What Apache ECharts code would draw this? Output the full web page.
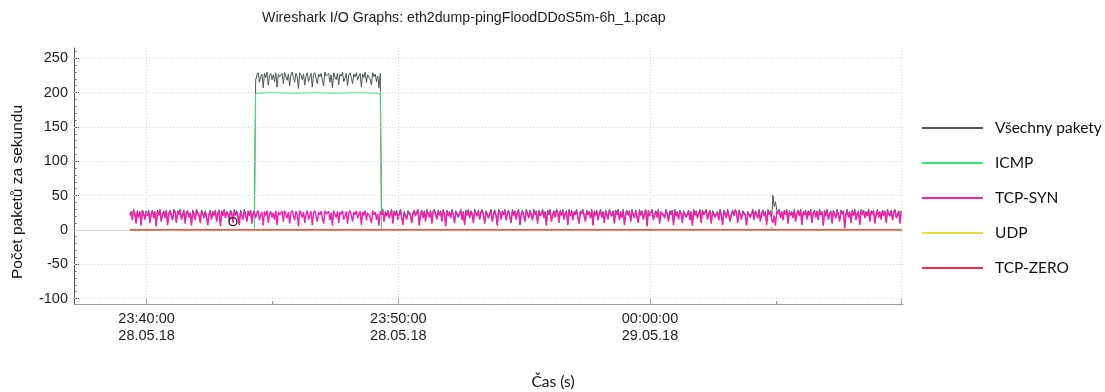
<!DOCTYPE html>
<html>
<head>
<meta charset="utf-8">
<script src="https://cdn.jsdelivr.net/npm/echarts@6/dist/echarts.min.js"></script>
<style>
html,body{margin:0;padding:0;background:#fff;}
#chart{width:1105px;height:392px;}
</style>
</head>
<body>
<div id="chart"></div>
<script>
// ---- DATA ----
const chartTitle = "Wireshark I/O Graphs: eth2dump-pingFloodDDoS5m-6h_1.pcap";
const seriesNames = ["Všechny pakety", "ICMP", "TCP-SYN", "UDP", "TCP-ZERO"];
const startTime = "23:39:20";   // first sample (28.05.18)
const stepSec = 3;              // sampling interval of the arrays below

const allPackets = [
23,27,17,30,25,12,28,20,27,9,29,24,18,28,21,29,13,25,29,19,
27,8,29,23,30,14,24,28,19,29,9,25,29,22,17,30,27,12,28,24,
30,17,23,29,12,27,29,20,25,9,29,24,16,30,28,22,13,29,25,19,
28,30,10,24,29,17,27,23,29,14,25,29,8,28,22,30,19,27,24,16,
29,25,13,30,23,28,20,9,29,27,17,30,24,14,28,22,29,11,25,29,
218,226,229,215,223,227,207,228,222,230,211,224,228,219,226,216,229,208,227,223,
221,228,213,229,224,218,227,210,226,230,222,215,228,223,206,229,226,219,227,211,
224,229,216,222,228,208,226,229,221,213,227,223,228,218,210,230,224,222,228,215,
226,207,229,223,219,228,211,227,224,230,216,221,228,210,226,229,222,213,227,223,
229,218,224,228,208,227,222,230,215,226,228,219,211,229,223,227,216,224,207,228,
24,30,14,27,22,29,19,25,30,11,28,23,29,16,24,30,20,9,27,29,
17,28,30,23,12,25,29,22,27,30,8,24,29,19,28,14,30,25,20,29,
11,27,30,24,17,29,23,28,14,30,25,7,29,22,27,19,30,24,12,28,
29,20,25,30,16,27,9,29,23,30,19,28,24,12,30,25,22,29,17,27,
30,23,11,28,29,19,25,30,14,24,29,22,8,30,27,17,28,24,30,16,
25,29,20,12,30,23,28,17,27,30,9,24,29,22,14,30,25,19,29,27,
16,30,24,28,11,29,22,25,30,19,27,8,29,24,30,14,23,28,20,30,
27,12,29,23,30,17,25,28,9,30,22,29,16,27,24,30,19,11,28,25,
30,22,14,29,24,27,19,30,8,28,23,29,16,25,30,20,27,12,29,24,
17,30,25,22,28,11,29,24,30,16,27,20,30,9,25,29,23,28,14,30,
24,19,29,27,12,30,23,28,17,25,30,7,29,22,27,30,16,24,28,20,
30,11,27,29,23,19,30,25,14,28,24,29,9,30,22,27,17,29,25,12,
28,30,20,24,29,16,27,8,30,23,28,19,25,30,12,29,24,22,30,17,
25,29,11,28,30,20,24,27,16,30,23,9,29,25,19,30,28,14,24,29,
22,30,27,12,29,24,17,28,30,23,8,27,29,20,25,30,16,28,24,19,
30,14,25,29,22,27,9,30,24,28,17,51,34,41,29,25,30,19,27,16,
29,24,30,11,28,23,27,19,30,14,25,29,22,30,9,27,24,29,17,28,
23,30,12,25,29,20,28,16,30,24,27,8,29,22,30,17,25,28,11,29,
27,19,30,23,14,29,25,28,5,24,30,20,27,12,29,23,30,16,25,28,
9,30,24,29,19,27,22,30,14,28,25,29,11,24,30,20,27,17,29,23,
28,12,30,25,22,29,16,27,30,19,24,28,11,29
];

const tcpSyn = [
21,26,14,28,23,9,27,18,25,6,28,22,15,26,20,27,10,23,28,17,
25,5,27,21,28,12,22,26,17,28,7,23,27,20,14,28,25,10,26,22,
28,15,21,27,9,25,28,18,23,6,27,22,14,28,26,20,10,27,23,17,
26,28,7,22,27,15,25,21,28,12,23,27,5,26,20,28,17,25,22,14,
27,23,10,28,21,26,18,7,27,25,15,28,22,12,26,20,28,9,23,27,
17,25,28,14,22,26,6,27,21,28,10,23,27,18,25,15,28,7,26,22,
20,27,12,28,23,17,26,9,25,28,21,14,27,22,5,28,25,18,26,10,
23,28,15,21,27,7,25,28,20,12,26,22,27,17,9,28,23,21,27,14,
25,6,28,22,18,27,10,26,23,28,15,20,27,9,25,28,21,12,26,22,
28,17,23,27,7,26,21,28,14,25,27,18,10,28,22,26,15,23,6,27,
22,28,12,25,20,27,17,23,28,9,26,21,27,14,22,28,18,7,25,27,
15,26,28,21,10,23,27,20,25,28,6,22,27,17,26,12,28,23,18,27,
9,25,28,22,15,27,21,26,12,28,23,5,27,20,25,17,28,22,10,26,
27,18,23,28,14,25,7,27,21,28,17,26,22,10,28,23,20,27,15,25,
28,21,9,26,27,17,23,28,12,22,27,20,6,28,25,15,26,22,28,14,
23,27,18,10,28,21,26,15,25,28,7,22,27,20,12,28,23,17,27,25,
14,28,22,26,9,27,20,23,28,17,25,6,27,22,28,12,21,26,18,28,
25,10,27,21,28,15,23,26,7,28,20,27,14,25,22,28,17,9,26,23,
28,20,12,27,22,25,17,28,6,26,21,27,14,23,28,18,25,10,27,22,
15,28,23,20,26,9,27,22,28,14,25,18,28,7,23,27,21,26,12,28,
22,17,27,25,10,28,21,26,15,23,28,5,27,20,25,28,14,22,26,18,
28,9,25,27,21,17,28,23,12,26,22,27,7,28,20,25,15,27,23,10,
26,28,18,22,27,14,25,6,28,21,26,17,23,28,10,27,22,20,28,15,
23,27,9,26,28,18,22,25,14,28,21,7,27,23,17,28,26,12,22,27,
20,28,25,10,27,22,15,26,28,21,6,25,27,18,23,28,14,26,22,17,
28,12,23,27,20,25,7,28,22,26,15,10,21,6,27,23,28,17,25,14,
27,22,28,9,26,21,25,17,28,12,23,27,20,28,7,25,22,27,15,26,
21,28,10,23,27,18,26,14,28,22,25,6,27,20,28,15,23,26,9,27,
25,17,28,21,12,27,23,26,2,22,28,18,25,10,27,21,28,14,23,26,
7,28,22,27,17,25,20,28,12,26,23,27,9,22,28,18,25,15,27,21,
26,10,28,23,20,27,14,25,28,17,22,26,9,27
];

// sparse series: [time, value]
const icmpPoints = [
["23:39:20",0],["23:44:17",0],["23:44:20",199],["23:45:00",200],["23:45:50",199],
["23:46:40",200],["23:47:30",199],["23:48:20",200],["23:49:17",199],["23:49:20",0],
["00:04:47",0],["00:04:50",4],["00:04:53",0],["00:10:00",0]
];
const udpPoints = [["23:39:20",0],["00:10:00",0]];
const tcpZeroPoints = [["23:39:20",0],["00:10:00",0]];
const markerPoint = ["23:43:26", 12];

// axis
const xMin = "23:37:07", xMax = "00:10:03";
const xLabelTicks = ["23:40:00","23:50:00","00:00:00"];
const xMajorTicks = ["23:40:00","23:50:00","00:00:00","00:10:00"];
const xMinorTicks = ["23:45:00","00:05:00"];
const yMin = -108, yMax = 265;
const yMajorTicks = [-100,-50,0,50,100,150,200,250];
const yMinorTicks = [-100,-90,-80,-70,-60,-50,-40,-30,-20,-10,0,10,20,30,40,50,60,70,80,90,100,110,120,130,140,150,160,170,180,190,200,210,220,230,240,250,260];

// ---- helpers ----
function toSec(hms){
  const p = hms.split(':').map(Number);
  let t = p[0]*3600 + p[1]*60 + p[2];
  if (p[0] >= 12) t -= 86400;   // evening of 28.05.18 -> negative seconds
  return t;
}
function pad(n){ return (n<10?'0':'') + n; }
function fmtX(v){
  const date = v < 0 ? '28.05.18' : '29.05.18';
  const s = ((Math.round(v) % 86400) + 86400) % 86400;
  return pad(Math.floor(s/3600)) + ':' + pad(Math.floor(s%3600/60)) + ':' + pad(s%60) + '\n' + date;
}
const t0 = toSec(startTime);
const gridData = arr => arr.map((v,i) => [t0 + i*stepSec, v]);
const sparse = arr => arr.map(d => [toSec(d[0]), d[1]]);

const FONT = "'Liberation Sans', Arial, sans-serif";
const colors = {
  all: '#4f5558', icmp: '#35e878', syn: '#f71db0', udp: '#e4e03a', zero: '#ff2748'
};

const dottedGrid = {type:[1,2], color:'#d6d6d6', width:1};
const gridLines = [];
xMajorTicks.forEach(t => gridLines.push({xAxis: toSec(t), lineStyle: dottedGrid}));
yMajorTicks.forEach(v => gridLines.push({yAxis: v, lineStyle: v===0 ? {type:'solid', color:'#d0d0d0', width:1} : dottedGrid}));

const chart = echarts.init(document.getElementById('chart'), null, {renderer:'canvas'});
chart.setOption({
  animation: false,
  backgroundColor: '#fff',
  title: {
    text: chartTitle, left: 262, top: 11, padding: 0,
    textStyle: {fontFamily: FONT, fontSize: 14.2, fontWeight: 'normal', color: '#1e1e1e'}
  },
  legend: {
    orient: 'vertical', left: 917, top: 114, itemGap: 17,
    icon: 'rect', itemWidth: 61, itemHeight: 2,
    data: seriesNames,
    textStyle: {fontFamily: "Lato, 'Open Sans', sans-serif", fontSize: 15.5, color: '#111', lineHeight: 18, padding: [0,0,0,7]}
  },
  grid: {left: 74, right: 202, top: 48, bottom: 88, containLabel: false},
  xAxis: [{
    type: 'value', min: toSec(xMin), max: toSec(xMax), position: 'bottom',
    axisLine: {show: true, onZero: false, lineStyle: {color: '#9a9a9a', width: 1}},
    axisTick: {show: true, inside: true, length: 5, customValues: xMajorTicks.map(toSec), lineStyle: {color: '#8a8a8a'}},
    axisLabel: {show: true, customValues: xLabelTicks.map(toSec), formatter: fmtX, margin: 6,
      fontFamily: FONT, fontSize: 14.5, lineHeight: 17, color: '#1e1e1e'},
    splitLine: {show: false}
  },{
    type: 'value', min: toSec(xMin), max: toSec(xMax), position: 'bottom',
    axisLine: {show: false, onZero: false},
    axisTick: {show: true, inside: true, length: 3, customValues: xMinorTicks.map(toSec), lineStyle: {color: '#8a8a8a'}},
    axisLabel: {show: false},
    splitLine: {show: false}
  }],
  yAxis: [{
    type: 'value', min: yMin, max: yMax, position: 'left',
    axisLine: {show: true, onZero: false, lineStyle: {color: '#555', width: 1}},
    axisTick: {show: true, inside: true, length: 5, customValues: yMajorTicks, lineStyle: {color: '#555'}},
    axisLabel: {show: true, customValues: yMajorTicks, margin: 6, fontFamily: FONT, fontSize: 14.5, color: '#1e1e1e'},
    splitLine: {show: false}
  },{
    type: 'value', min: yMin, max: yMax, position: 'left',
    axisLine: {show: false, onZero: false},
    axisTick: {show: true, inside: true, length: 2.5, customValues: yMinorTicks, lineStyle: {color: '#666'}},
    axisLabel: {show: false},
    splitLine: {show: false}
  }],
  graphic: [
    {type: 'text', x: 18, y: 192, rotation: Math.PI/2,
     style: {text: 'Počet paketů za sekundu', fontFamily: FONT, fontSize: 15.5, fill: '#111', align: 'center', verticalAlign: 'middle'}},
    {type: 'text', x: 553, y: 382,
     style: {text: 'Čas (s)', fontFamily: "Lato, 'Open Sans', sans-serif", fontSize: 15.5, fill: '#111', align: 'center', verticalAlign: 'middle'}}
  ],
  series: [
    {name: '_grid', type: 'line', data: [], z: 0, silent: true,
     markLine: {silent: true, symbol: 'none', label: {show: false}, animation: false, data: gridLines}},
    {name: seriesNames[0], type: 'line', data: gridData(allPackets), showSymbol: false, symbol: 'none',
     lineStyle: {width: 1, color: colors.all}, itemStyle: {color: colors.all}, z: 2},
    {name: seriesNames[1], type: 'line', data: sparse(icmpPoints), showSymbol: false, symbol: 'none',
     lineStyle: {width: 1, color: colors.icmp}, itemStyle: {color: colors.icmp}, z: 3},
    {name: seriesNames[2], type: 'line', data: gridData(tcpSyn), showSymbol: false, symbol: 'none',
     lineStyle: {width: 1.4, color: colors.syn}, itemStyle: {color: colors.syn}, z: 4},
    {name: seriesNames[3], type: 'line', data: sparse(udpPoints), showSymbol: false, symbol: 'none',
     lineStyle: {width: 1.5, color: colors.udp}, itemStyle: {color: colors.udp}, z: 5},
    {name: seriesNames[4], type: 'line', data: sparse(tcpZeroPoints), showSymbol: false, symbol: 'none',
     lineStyle: {width: 1.2, color: colors.zero}, itemStyle: {color: colors.zero}, z: 6,
     markPoint: {symbol: 'circle', symbolSize: 8, silent: true, label: {show: false},
       itemStyle: {color: 'rgba(0,0,0,0)', borderColor: '#222', borderWidth: 1.4},
       data: [{coord: [toSec(markerPoint[0]), markerPoint[1]]}]}}
  ]
});
</script>
</body>
</html>
